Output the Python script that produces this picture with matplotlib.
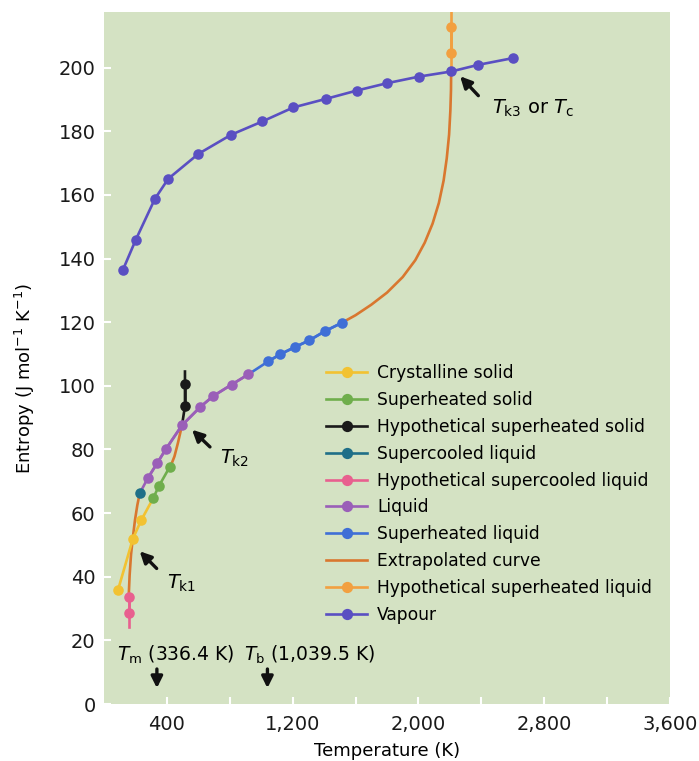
import matplotlib
matplotlib.use("Agg")
import matplotlib.pyplot as plt
from matplotlib.lines import Line2D

plt.rcParams['font.family'] = ['DejaVu Sans']
plt.rcParams['mathtext.fontset'] = 'dejavusans'

# ---------------- data ----------------
cryst_T = [89, 184, 237]
cryst_S = [35.8, 52.0, 57.8]

shsolid_T = [312, 348, 418]
shsolid_S = [64.6, 68.4, 74.5]

hypshsolid_T = [515, 515]
hypshsolid_S = [93.6, 100.7]
hypshsolid_top = 104.5

supercooled_T = [227]
supercooled_S = [66.2]

hypsupercooled_T = [157, 157]
hypsupercooled_S = [33.7, 28.7]
hypsupercooled_bottom = 24.3

liquid_T = [280, 337, 396, 496, 611, 695, 812, 918]
liquid_S = [71.1, 75.6, 80.3, 87.6, 93.3, 96.8, 100.4, 103.6]

shliquid_T = [1045, 1120, 1215, 1306, 1406, 1512]
shliquid_S = [107.7, 109.9, 112.2, 114.3, 117.2, 119.8]

# extrapolated curve segments
extrap_low_T = [157, 163, 172, 184, 197, 212, 227]
extrap_low_S = [33.7, 40.5, 47.0, 52.5, 57.8, 62.5, 66.2]
extrap_mid_T = [418, 432, 448, 470, 496]
extrap_mid_S = [74.5, 75.8, 77.8, 82.0, 87.6]
extrap_high_T = [1512, 1600, 1700, 1800, 1900, 1980, 2040, 2090, 2130, 2160,
                 2180, 2195, 2203, 2207, 2208]
extrap_high_S = [119.8, 122.2, 125.5, 129.3, 134.2, 139.5, 145.0, 151.0, 157.5, 164.5,
                 171.5, 179.0, 186.5, 193.0, 198.8]

hypshliquid_T = [2208, 2208]
hypshliquid_S = [204.6, 212.9]
hypshliquid_top = 225

vapour_T = [119, 202, 324, 409, 600, 808, 1007, 1204, 1412, 1607, 1798, 2004, 2208, 2381, 2600]
vapour_S = [136.3, 145.9, 158.8, 165.1, 172.9, 178.9, 183.1, 187.5, 190.2, 192.8,
            195.1, 197.2, 198.8, 200.9, 203.0]

Tm = 336.4
Tb = 1039.5

xticks_major = [400, 1200, 2000, 2800, 3600]
xtick_labels = ['400', '1,200', '2,000', '2,800', '3,600']
xticks_minor = [800, 1600, 2400, 3200]
yticks = list(range(0, 201, 20))

labels = ['Crystalline solid', 'Superheated solid', 'Hypothetical superheated solid',
          'Supercooled liquid', 'Hypothetical supercooled liquid', 'Liquid',
          'Superheated liquid', 'Extrapolated curve', 'Hypothetical superheated liquid',
          'Vapour']

# ---------------- style ----------------
c_cryst = '#f2c232'
c_shsolid = '#6fae4c'
c_hypshsolid = '#1a1a1a'
c_supercooled = '#1f6f88'
c_hypsuper = '#e8608f'
c_liquid = '#9a5fb8'
c_shliquid = '#3f6fd6'
c_extrap = '#d9772f'
c_hypshliquid = '#f2a040'
c_vapour = '#5a4fc2'

ms = 7.6
lw = 1.9

fig = plt.figure(figsize=(6.99, 7.61), dpi=100)
ax = fig.add_axes([104/699, (761-704)/761, 566/699, 692/761])
ax.set_facecolor('#d4e2c3')
for s in ax.spines.values():
    s.set_visible(False)

kw = dict(marker='o', markersize=ms, markeredgewidth=0, lw=lw)

# extrapolated curve (underneath)
ax.plot(extrap_low_T, extrap_low_S, color=c_extrap, lw=lw, zorder=2)
ax.plot(extrap_mid_T, extrap_mid_S, color=c_extrap, lw=lw, zorder=2)
h_extrap, = ax.plot(extrap_high_T, extrap_high_S, color=c_extrap, lw=lw, zorder=2)

# crystalline solid (line continues to first superheated solid point)
ax.plot(cryst_T + shsolid_T[:1], cryst_S + shsolid_S[:1], color=c_cryst, lw=lw, zorder=3)
h_cryst, = ax.plot(cryst_T, cryst_S, color=c_cryst, ls='none', marker='o',
                   markersize=ms, markeredgewidth=0, zorder=4)

h_shsolid, = ax.plot(shsolid_T, shsolid_S, color=c_shsolid, zorder=4, **kw)

# hypothetical superheated solid: from liquid Tk2 point upwards
tk2_T, tk2_S = liquid_T[3], liquid_S[3]
ax.plot([tk2_T] + hypshsolid_T + [hypshsolid_T[-1]],
        [tk2_S] + hypshsolid_S + [hypshsolid_top], color=c_hypshsolid, lw=lw, zorder=3)
h_hypshsolid, = ax.plot(hypshsolid_T, hypshsolid_S, color=c_hypshsolid, zorder=4, **kw)

# hypothetical supercooled liquid
ax.plot(hypsupercooled_T + [hypsupercooled_T[-1]],
        hypsupercooled_S + [hypsupercooled_bottom], color=c_hypsuper, lw=lw, zorder=3)
h_hypsuper, = ax.plot(hypsupercooled_T, hypsupercooled_S, color=c_hypsuper, zorder=4, **kw)

# liquid (line starts at supercooled liquid point)
ax.plot(supercooled_T + liquid_T, supercooled_S + liquid_S, color=c_liquid, lw=lw, zorder=3)
h_liquid, = ax.plot(liquid_T, liquid_S, color=c_liquid, zorder=4, **kw)

h_supercooled, = ax.plot(supercooled_T, supercooled_S, color=c_supercooled, zorder=5, **kw)

# superheated liquid
ax.plot(liquid_T[-1:] + shliquid_T, liquid_S[-1:] + shliquid_S, color=c_shliquid, lw=lw, zorder=3)
h_shliquid, = ax.plot(shliquid_T, shliquid_S, color=c_shliquid, zorder=4, **kw)

# hypothetical superheated liquid
ax.plot([extrap_high_T[-1]] + hypshliquid_T + [hypshliquid_T[-1]],
        [extrap_high_S[-1]] + hypshliquid_S + [hypshliquid_top], color=c_hypshliquid, lw=lw, zorder=3)
h_hypshliquid, = ax.plot(hypshliquid_T, hypshliquid_S, color=c_hypshliquid, zorder=4, **kw)

# vapour
h_vapour, = ax.plot(vapour_T, vapour_S, color=c_vapour, zorder=6, **kw)

ax.set_xlim(0, 3600)
ax.set_ylim(0, 217.5)

ax.set_xticks(xticks_major)
ax.set_xticklabels(xtick_labels)
ax.set_xticks(xticks_minor, minor=True)
ax.set_yticks(yticks)
ax.tick_params(axis='both', which='both', direction='in', color='white', length=5, width=1.5,
               labelsize=14, labelcolor='#1a1a1a')
ax.tick_params(axis='x', which='major', pad=8)
ax.tick_params(axis='y', which='major', pad=6)

ax.set_xlabel('Temperature (K)', fontsize=13, labelpad=6)
ax.set_ylabel(r'Entropy (J mol$^{-1}$ K$^{-1}$)', fontsize=13, labelpad=8)
ax.yaxis.set_label_coords(-0.118, 0.47)

# legend
handles = [h_cryst, h_shsolid, h_hypshsolid, h_supercooled, h_hypsuper, h_liquid,
           h_shliquid, h_extrap, h_hypshliquid, h_vapour]
leg_handles = []
for h in handles:
    leg_handles.append(Line2D([], [], color=h.get_color(), lw=lw,
                              marker=None if h is h_extrap else 'o',
                              markersize=ms + 0.5, markeredgewidth=0))
leg = ax.legend(leg_handles, labels, loc='upper left',
                bbox_to_anchor=((326 - 104) / 566, (704 - 364) / 692),
                frameon=False, fontsize=12.3, handlelength=2.4, handletextpad=0.6,
                labelspacing=0.52, borderpad=0, borderaxespad=0)

# annotations
arrow = dict(arrowstyle='-|>', color='#111111', lw=2.4, mutation_scale=17,
             shrinkA=0, shrinkB=0)
ax.annotate('', xy=(227, 48.0), xytext=(335, 42.6), arrowprops=arrow, zorder=7)
ax.text(400, 38.0, r'$T_\mathrm{k1}$', fontsize=14, va='center', ha='left')
ax.annotate('', xy=(560, 86.2), xytext=(674, 80.8), arrowprops=arrow, zorder=7)
ax.text(738, 77.2, r'$T_\mathrm{k2}$', fontsize=14, va='center', ha='left')
ax.annotate('', xy=(2265, 197.3), xytext=(2381, 191.2), arrowprops=arrow, zorder=7)
ax.text(2466, 187.3, r'$T_\mathrm{k3}$ or $T_\mathrm{c}$', fontsize=14, va='center', ha='left')

ax.annotate('', xy=(Tm, 5.0), xytext=(Tm, 11.0), arrowprops=arrow, zorder=7)
ax.annotate('', xy=(Tb, 5.0), xytext=(Tb, 11.0), arrowprops=arrow, zorder=7)
ax.text(83, 15.6, r'$T_\mathrm{m}$ (336.4 K)', fontsize=13.5, va='center', ha='left')
ax.text(893, 15.6, r'$T_\mathrm{b}$ (1,039.5 K)', fontsize=13.5, va='center', ha='left')

fig.savefig('out.png', dpi=100)
